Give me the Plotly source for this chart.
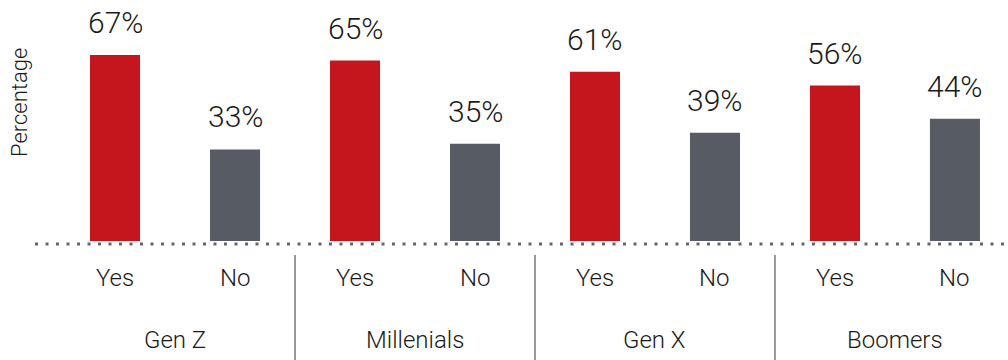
import plotly.graph_objects as go

groups = ["Gen Z", "Millenials", "Gen X", "Boomers"]
answers = ["Yes", "No"]
yes_values = [67, 65, 61, 56]
no_values = [33, 35, 39, 44]
tick_labels = ["Yes", "No", "Yes", "No", "Yes", "No", "Yes", "No"]

RED = "#C4161C"
GREY = "#575B63"
FONT = "Roboto, Liberation Sans Narrow, sans-serif"

values, colors = [], []
for y, n in zip(yes_values, no_values):
    values += [y, n]
    colors += [RED, GREY]
xpos = list(range(len(values)))

fig = go.Figure()
fig.add_trace(go.Bar(x=xpos, y=values, marker=dict(color=colors, line=dict(width=0)),
                     width=0.417, hoverinfo="skip"))

def f(size):
    return dict(size=size, color="#1a1a1a", family=FONT, weight=300)

ann = []
for x, v in zip(xpos, values):
    ann.append(dict(x=x, y=v, xref="x", yref="y", text=f"{v}%", showarrow=False,
                    yanchor="bottom", yshift=13, font=f(30)))
for x, t in zip(xpos, tick_labels):
    ann.append(dict(x=x, y=0, xref="x", yref="paper", text=t, showarrow=False,
                    yanchor="middle", yshift=-34, font=f(24)))
for i, g in enumerate(groups):
    ann.append(dict(x=2 * i + 0.5, y=0, xref="x", yref="paper", text=g, showarrow=False,
                    yanchor="middle", yshift=-96, font=f(24)))
ann.append(dict(x=-0.0154, y=0.578, xref="paper", yref="paper", text="Percentage",
                textangle=-90, showarrow=False, xanchor="center", yanchor="middle",
                font=f(22)))

shapes = [dict(type="line", xref="paper", yref="paper", x0=0, x1=1, y0=0, y1=0,
               line=dict(color="#666", width=3, dash="3px,7.5px"))]
for i in range(1, len(groups)):
    shapes.append(dict(type="line", xref="x", yref="paper", x0=2 * i - 0.5, x1=2 * i - 0.5,
                       y0=-0.045, y1=-0.5, line=dict(color="#333", width=1)))

fig.update_layout(
    width=1008, height=360,
    margin=dict(l=35, r=0, t=0, b=116),
    paper_bgcolor="white", plot_bgcolor="white",
    showlegend=False,
    xaxis=dict(range=[-0.667, 7.442], showticklabels=False, showgrid=False,
               zeroline=False, showline=False, ticks=""),
    yaxis=dict(range=[-1.08, 86.8], showticklabels=False, showgrid=False,
               zeroline=False, showline=False, ticks=""),
    annotations=ann, shapes=shapes,
)
fig.write_html("out.html")
